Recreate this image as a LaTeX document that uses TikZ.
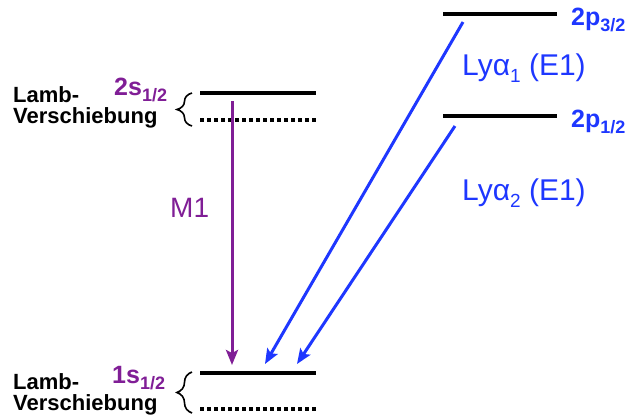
\documentclass[tikz,border=0pt]{standalone}
\usepackage{fontspec}
\setmainfont{Liberation Sans}
\usetikzlibrary{arrows.meta,decorations.pathreplacing}
\definecolor{lvpurple}{RGB}{128,30,150}
\definecolor{lvblue}{RGB}{30,55,255}
\newcommand{\lowsub}[3]{\raisebox{-#1}{\fontsize{#2}{#2}\selectfont #3}}
\begin{document}
\begin{tikzpicture}[x=1pt,y=-1pt,
  level/.style={line width=3.5pt},
  shiftlevel/.style={line width=3.5pt, dash pattern=on 3.5pt off 3.5pt},
  statelbl/.style={font=\bfseries\fontsize{25}{25}\selectfont, anchor=base west, inner sep=0pt},
  lamblbl/.style={font=\bfseries\fontsize{22}{22}\selectfont, anchor=base west, inner sep=0pt},
  translbl/.style={font=\fontsize{30}{30}\selectfont, anchor=base west, inner sep=0pt},
  trans/.style={line width=3pt, -{Stealth[length=15pt,width=12pt,inset=3pt]}},
  lambbrace/.style={decorate, decoration={brace,amplitude=15pt}, line width=1.6pt}]
\useasboundingbox (0,0) rectangle (630,416);

% levels
\draw[level] (443,14) coordinate (p32l) -- (557,14) coordinate (p32r);
\draw[level] (443,116) coordinate (p12l) -- (557,116) coordinate (p12r);
\draw[level] (200,93) coordinate (s2l) -- (316,93) coordinate (s2r);
\draw[shiftlevel] (200,120) -- (316,120);
\draw[level] (200,373) coordinate (s1l) -- (316,373) coordinate (s1r);
\draw[shiftlevel] (200,409) -- (316,409);

% braces
\draw[lambbrace] (192,126) -- (192,93);
\draw[lambbrace] (192,413) -- (192,372);

% transition endpoints
\coordinate (m1a) at (232,101);
\coordinate (m1b) at (232,365);
\coordinate (ly1a) at (463,22);
\coordinate (ly1b) at (265,364);
\coordinate (ly2a) at (455,126);
\coordinate (ly2b) at (297,364);

\draw[trans, lvpurple] (m1a) -- (m1b);
\draw[trans, lvblue] (ly1a) -- (ly1b);
\draw[trans, lvblue] (ly2a) -- (ly2b);

% labels
\node[statelbl, lvblue] (l32) at (571,25) {2p\lowsub{6pt}{18}{3/2}};
\node[statelbl, lvblue] (l12) at (571,127) {2p\lowsub{6pt}{18}{1/2}};
\node[statelbl, lvpurple] (l2s) at (114,95) {2s\lowsub{6pt}{18}{1/2}};
\node[statelbl, lvpurple] (l1s) at (112,383) {1s\lowsub{6pt}{18}{1/2}};

\node[translbl, lvblue] (tly1) at (462,75) {Lyα\lowsub{7pt}{19}{1} (E1)};
\node[translbl, lvblue] (tly2) at (462,200) {Lyα\lowsub{7pt}{19}{2} (E1)};
\node[translbl, lvpurple, font=\fontsize{28}{28}\selectfont] (tm1) at (170,217) {M1};

\node[lamblbl] (lamb1) at (13,102) {Lamb-};
\node[lamblbl] (vs1) at (13,123) {Verschiebung};
\node[lamblbl] (lamb2) at (13,389) {Lamb-};
\node[lamblbl] (vs2) at (13,410) {Verschiebung};
\end{tikzpicture}
\end{document}
